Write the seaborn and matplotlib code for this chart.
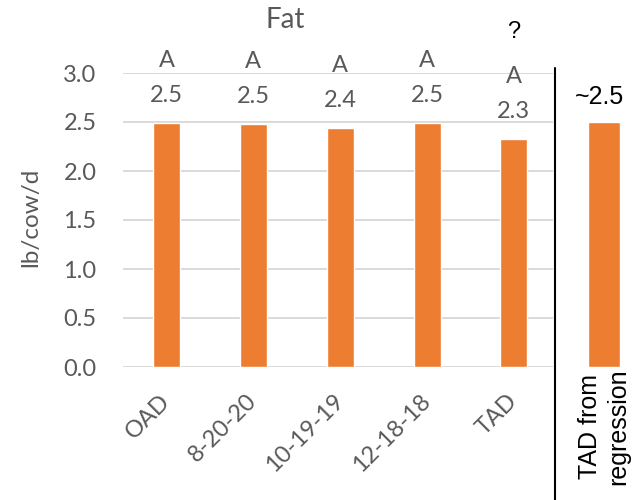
import matplotlib
matplotlib.use("Agg")
import matplotlib.pyplot as plt
from matplotlib.lines import Line2D
import seaborn as sns
import pandas as pd

# Fat yield by milking schedule
categories = ["OAD", "8-20-20", "10-19-19", "12-18-18", "TAD"]
fat_lb = [2.49, 2.48, 2.44, 2.49, 2.33]
letters = ["A", "A", "A", "A", "A"]
flags = ["", "", "", "", "?"]

# Estimate for TAD from the regression
reg_category = ["TAD from\nregression"]
reg_fat_lb = [2.5]
reg_label = "~2.5"

title = "Fat"
ylabel = "lb/cow/d"
yticks = [0.0, 0.5, 1.0, 1.5, 2.0, 2.5, 3.0]

ORANGE = "#ED7D31"
GRAY = "#595959"
GRID = "#D9D9D9"

sns.set_theme(style="white")
plt.rcParams["font.family"] = ["Lato", "DejaVu Sans"]

fig = plt.figure(figsize=(6.36, 5.0), dpi=100)
ax = fig.add_axes([123 / 636, 1 - 367 / 500, 430 / 636, 294 / 500])

df = pd.DataFrame({"group": categories, "fat": fat_lb})
sns.barplot(data=df, x="group", y="fat", color=ORANGE, saturation=1,
            width=0.31, ax=ax, errorbar=None)

ax.set_xlim(-0.5, 4.45)
ax.set_ylim(0, 3.0)
ax.set_yticks(yticks)
ax.set_yticklabels([f"{t:.1f}" for t in yticks])
ax.yaxis.grid(True, color=GRID, lw=1.4)
ax.set_axisbelow(True)
for s in ax.spines.values():
    s.set_visible(False)
ax.tick_params(axis="both", length=0, colors=GRAY, labelsize=17)
ax.tick_params(axis="y", pad=19)
ax.tick_params(axis="x", pad=22)
for lab in ax.get_xticklabels():
    lab.set_rotation(45)
    lab.set_ha("right")
    lab.set_va("center")
    lab.set_rotation_mode("anchor")
ax.set_xlabel("")
ax.set_ylabel(ylabel, fontsize=17.5, color=GRAY)
ax.yaxis.set_label_coords(-0.19, 0.51)

for i, (v, letter, flag) in enumerate(zip(fat_lb, letters, flags)):
    ax.annotate(f"{v:.1f}", (i, v), xytext=(0, 19.5), textcoords="offset points",
                ha="center", va="center", fontsize=17, color=GRAY, annotation_clip=False)
    ax.annotate(letter, (i, v), xytext=(0, 45), textcoords="offset points",
                ha="center", va="center", fontsize=17, color=GRAY, annotation_clip=False)
    if flag:
        ax.annotate(flag, (i, v), xytext=(0, 77), textcoords="offset points",
                    ha="center", va="center", fontsize=17, color="black",
                    family=["Liberation Sans", "DejaVu Sans"], annotation_clip=False)

fig.text(285 / 636, 1 - 20 / 500, title, ha="center", va="center",
         fontsize=20, color=GRAY)

# Regression panel to the right of the divider
ax2 = fig.add_axes([565 / 636, 1 - 367 / 500, 78 / 636, 294 / 500])
df2 = pd.DataFrame({"group": reg_category, "fat": reg_fat_lb})
sns.barplot(data=df2, x="group", y="fat", color=ORANGE, saturation=1,
            width=0.40, ax=ax2, errorbar=None)
ax2.set_xlim(-0.5, 0.5)
ax2.set_ylim(0, 3.0)
ax2.set_yticks([])
ax2.set_xlabel("")
ax2.set_ylabel("")
for s in ax2.spines.values():
    s.set_visible(False)
ax2.tick_params(axis="x", length=0, pad=1)
for lab in ax2.get_xticklabels():
    lab.set_rotation(90)
    lab.set_ha("center")
    lab.set_va("top")
    lab.set_multialignment("center")
    lab.set_fontsize(18)
    lab.set_color("black")
    lab.set_family(["Liberation Sans", "DejaVu Sans"])
ax2.annotate(reg_label, (0, reg_fat_lb[0]), xytext=(-3, 18), textcoords="offset points",
             ha="center", va="center", fontsize=18, color="black",
             family=["Liberation Sans", "DejaVu Sans"], annotation_clip=False)

fig.add_artist(Line2D([555 / 636, 555 / 636], [0, 1 - 68 / 500],
                      transform=fig.transFigure, color="black", lw=1.5))

fig.savefig("out.png", dpi=100)
